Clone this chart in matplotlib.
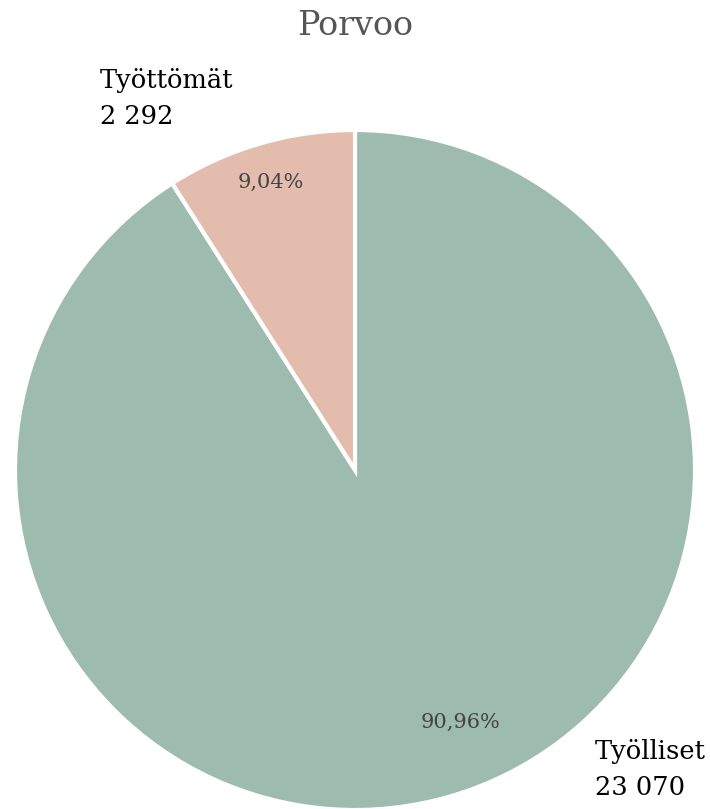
import matplotlib.pyplot as plt

# Porvoo: employed vs unemployed
labels = ['Työlliset', 'Työttömät']
values = [23070, 2292]
value_labels = ['23 070', '2 292']
colors = ['#9dbbae', '#e4bcad']

W, H = 710, 809
fig = plt.figure(figsize=(W / 100, H / 100), dpi=100)
ax = fig.add_axes([0, 0, 1, 1])

cx, cy, r = 355, H - 470, 340
pct_fmt = lambda p: f'{p:.2f}%'.replace('.', ',')

wedges, texts, autotexts = ax.pie(
    values, colors=colors, startangle=90, counterclock=False,
    center=(cx, cy), radius=r, autopct=pct_fmt, pctdistance=0.88,
    wedgeprops=dict(edgecolor='white', linewidth=3),
    textprops=dict(family='DejaVu Serif', fontsize=15, color='#444444'),
)
# nudge the big slice's percentage to where the original chart puts it
autotexts[0].set_position((cx + 106, cy - 252))

ax.set_xlim(0, W)
ax.set_ylim(0, H)
ax.set_aspect('equal')
ax.axis('off')

ax.text(100, H - 68, f'{labels[1]}\n{value_labels[1]}', ha='left', va='top',
        family='DejaVu Serif', fontsize=18.5, color='black', linespacing=1.55)
ax.text(595, H - 739, f'{labels[0]}\n{value_labels[0]}', ha='left', va='top',
        family='DejaVu Serif', fontsize=18.5, color='black', linespacing=1.55)

ax.text(W / 2, H - 26, 'Porvoo', ha='center', va='center',
        family='DejaVu Serif', fontsize=24, color='#555555')

fig.savefig('out.png', dpi=100)
